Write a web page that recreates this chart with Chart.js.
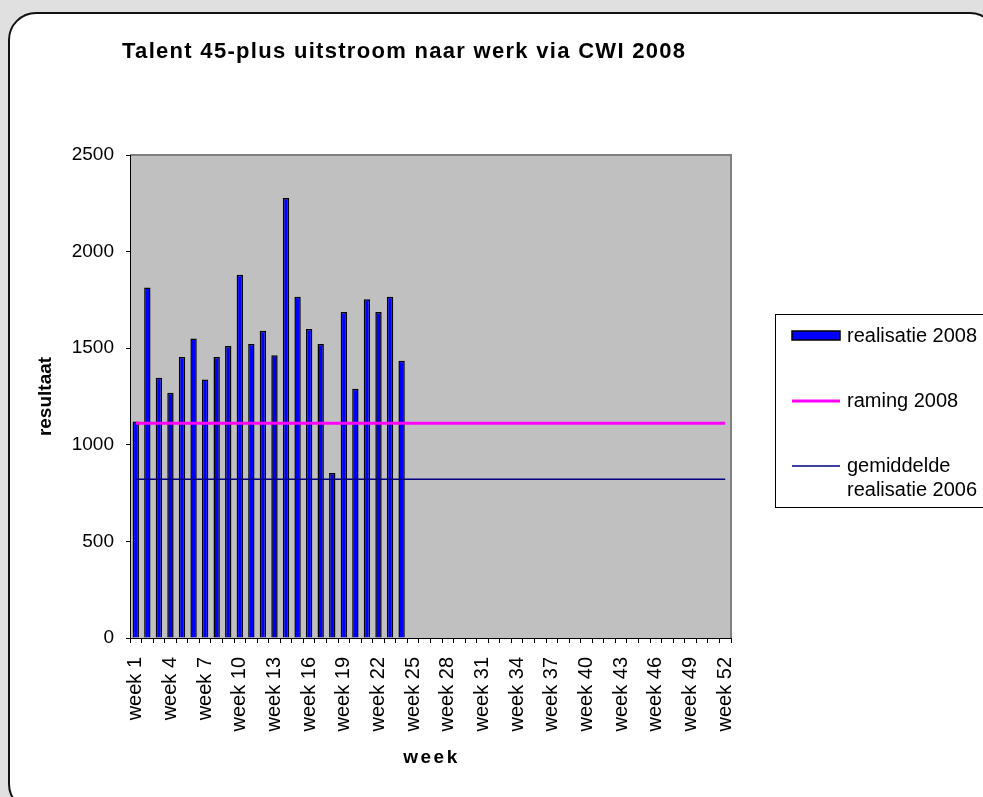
<!DOCTYPE html>
<html>
<head>
<meta charset="utf-8">
<script src="https://cdn.jsdelivr.net/npm/chart.js@4.4.0/dist/chart.umd.min.js"></script>
<style>
  html, body { margin: 0; padding: 0; background: #e0e0e0; overflow: hidden; }
  .card {
    position: absolute; left: 8px; top: 12px; width: 990px; height: 800px;
    background: #fff; border: 2px solid #111; border-radius: 28px; box-sizing: border-box;
  }
  #wrap { position: absolute; left: 0; top: 0; width: 983px; height: 797px; }
</style>
</head>
<body>
<div class="card"></div>
<div id="wrap"><canvas id="chart" width="983" height="797"></canvas></div>
<script>
// categories: week 1 .. week 52
const weeks = Array.from({ length: 52 }, (_, i) => 'week ' + (i + 1));
// only every third week gets a label on the axis
const shownWeeks = [1, 4, 7, 10, 13, 16, 19, 22, 25, 28, 31, 34, 37, 40, 43, 46, 49, 52];

// realisatie 2008 (weeks 1-24)
const realisatie2008 = [1120, 1814, 1347, 1269, 1454, 1550, 1338, 1454, 1512, 1880, 1522, 1590,
                        1464, 2278, 1766, 1600, 1522, 854, 1687, 1290, 1754, 1687, 1766, 1435];
// flat reference lines, from week 1 to week 52
const lineWeeks = ['week 1', 'week 52'];
const raming2008 = [1112, 1112];
const gemiddelde2006 = [822, 822];

const yTicks = [0, 500, 1000, 1500, 2000, 2500];

const FONT = 'Arial, "Liberation Sans", sans-serif';
Chart.defaults.font.family = FONT;
Chart.defaults.color = '#000';

// grey plot background with grey top/right frame
const plotArea = {
    id: 'plotArea',
    beforeDraw(chart) {
        const { ctx, chartArea: a } = chart;
        ctx.save();
        ctx.fillStyle = '#c0c0c0';
        ctx.fillRect(a.left, a.top, a.right - a.left, a.bottom - a.top);
        ctx.strokeStyle = '#808080';
        ctx.lineWidth = 2;
        ctx.beginPath();
        ctx.moveTo(a.left, a.top);
        ctx.lineTo(a.right, a.top);
        ctx.lineTo(a.right, a.bottom);
        ctx.stroke();
        ctx.restore();
    }
};

// title, x-axis title and the boxed legend on the right
const decorations = {
    id: 'decorations',
    afterDraw(chart) {
        const ctx = chart.ctx;
        const a = chart.chartArea;
        ctx.save();
        ctx.fillStyle = '#000';

        ctx.font = 'bold 22px ' + FONT;
        ctx.letterSpacing = '1.3px';
        ctx.textAlign = 'left';
        ctx.textBaseline = 'alphabetic';
        ctx.fillText('Talent 45-plus uitstroom naar werk via CWI 2008', 122, 58);

        ctx.font = 'bold 19px ' + FONT;
        ctx.letterSpacing = '2.5px';
        ctx.textAlign = 'center';
        ctx.textBaseline = 'middle';
        ctx.fillText('week', (a.left + a.right) / 2 + 1, 758);

        // legend
        ctx.letterSpacing = '0px';
        ctx.strokeStyle = '#000';
        ctx.lineWidth = 1;
        ctx.strokeRect(775.5, 314.5, 230, 193);

        ctx.fillStyle = '#0000ff';
        ctx.fillRect(792, 331, 48, 9);
        ctx.lineWidth = 1.5;
        ctx.strokeRect(792, 331, 48, 9);

        ctx.strokeStyle = '#ff00ff';
        ctx.lineWidth = 3;
        ctx.beginPath(); ctx.moveTo(792, 401); ctx.lineTo(840, 401); ctx.stroke();

        ctx.strokeStyle = '#000080';
        ctx.lineWidth = 1.5;
        ctx.beginPath(); ctx.moveTo(792, 466); ctx.lineTo(840, 466); ctx.stroke();

        ctx.fillStyle = '#000';
        ctx.font = '20px ' + FONT;
        ctx.textAlign = 'left';
        ctx.textBaseline = 'middle';
        ctx.fillText('realisatie 2008', 847, 336);
        ctx.fillText('raming 2008', 847, 401);
        ctx.fillText('gemiddelde', 847, 466);
        ctx.fillText('realisatie 2006', 847, 490);
        ctx.restore();
    }
};

new Chart(document.getElementById('chart'), {
    type: 'bar',
    data: {
        labels: weeks,
        datasets: [
            {
                type: 'line',
                label: 'raming 2008',
                data: lineWeeks.map((w, i) => ({ x: w, y: raming2008[i] })),
                borderColor: '#ff00ff',
                borderWidth: 3,
                pointRadius: 0,
                order: 1
            },
            {
                type: 'line',
                label: 'gemiddelde realisatie 2006',
                data: lineWeeks.map((w, i) => ({ x: w, y: gemiddelde2006[i] })),
                borderColor: '#000080',
                borderWidth: 1.5,
                pointRadius: 0,
                order: 0
            },
            {
                label: 'realisatie 2008',
                data: realisatie2008,
                backgroundColor: '#0000ff',
                borderColor: '#000',
                borderWidth: 1.5,
                barPercentage: 0.55,
                categoryPercentage: 1,
                order: 2
            }
        ]
    },
    options: {
        responsive: false,
        animation: false,
        layout: { padding: { left: 0, top: 155, right: 252, bottom: 0 } },
        plugins: {
            legend: { display: false },
            tooltip: { enabled: false }
        },
        scales: {
            x: {
                grid: { drawOnChartArea: false, color: '#000', tickLength: 5, offset: true },
                border: { color: '#000', width: 1 },
                ticks: {
                    autoSkip: false,
                    minRotation: 90,
                    maxRotation: 90,
                    padding: 14,
                    font: { size: 20 },
                    callback(value, index) {
                        return shownWeeks.includes(index + 1) ? weeks[index] : '';
                    }
                },
                afterFit(scale) { scale.height = 159; }
            },
            y: {
                min: 0,
                max: 2500,
                grid: { drawOnChartArea: false, color: '#000', tickLength: 4 },
                border: { color: '#000', width: 1 },
                afterBuildTicks(scale) { scale.ticks = yTicks.map(v => ({ value: v })); },
                ticks: {
                    padding: 12,
                    font: { size: 19 },
                    callback: value => String(value)
                },
                title: {
                    display: true,
                    text: 'resultaat',
                    font: { size: 19, weight: 'bold' },
                    padding: { top: 34, bottom: 0 }
                },
                afterFit(scale) { scale.width = 130; }
            }
        }
    },
    plugins: [plotArea, decorations]
});
</script>
</body>
</html>
